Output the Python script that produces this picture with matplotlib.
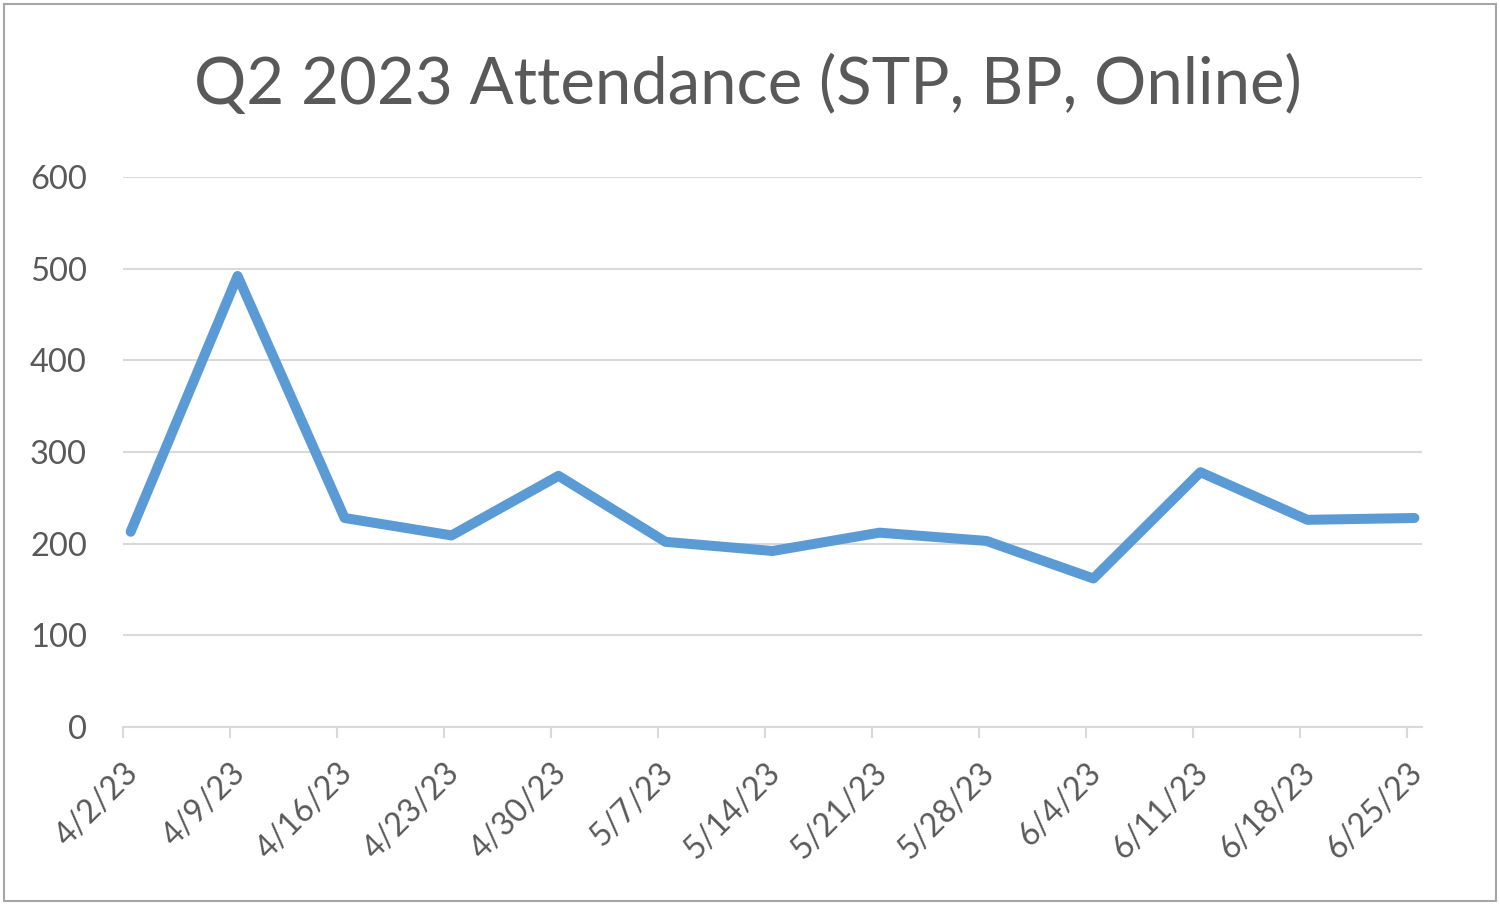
import matplotlib
matplotlib.use("Agg")
import matplotlib.pyplot as plt
import matplotlib.dates as mdates
from matplotlib.patches import Rectangle
import datetime as dt

# weekly attendance
week_labels = ["4/2/23", "4/9/23", "4/16/23", "4/23/23", "4/30/23", "5/7/23", "5/14/23",
               "5/21/23", "5/28/23", "6/4/23", "6/11/23", "6/18/23", "6/25/23"]
attendance = [213, 492, 228, 209, 274, 202, 192, 212, 203, 162, 278, 226, 228]
y_ticks = [0, 100, 200, 300, 400, 500, 600]

title = "Q2 2023 Attendance (STP, BP, Online)"
text_color = "#595959"
grid_color = "#d9d9d9"
line_color = "#5b9bd5"
font = ["Lato", "DejaVu Sans"]

dates = [dt.datetime.strptime(s, "%m/%d/%y") for s in week_labels]
tick_pos = mdates.date2num(dates)
# excel date axis puts each point in the middle of its day
point_pos = tick_pos + 0.5

fig = plt.figure(figsize=(15, 9.05), dpi=100)
ax = fig.add_axes([123 / 1500, 1 - 727 / 905, (1422 - 123) / 1500, (727 - 177) / 905])

ax.plot(point_pos, attendance, color=line_color, linewidth=7.2,
        solid_capstyle="round", solid_joinstyle="round", zorder=3)

ax.set_xlim(tick_pos[0], tick_pos[-1] + 1)
ax.set_ylim(0, 600)
ax.set_yticks(y_ticks)
ax.set_yticklabels([str(v) for v in y_ticks], fontsize=23.5, color=text_color, family=font)
ax.set_xticks(tick_pos)
ax.set_xticklabels(week_labels, fontsize=23, color=text_color, family=font,
                   rotation=45, ha="right", va="top", rotation_mode="anchor")

ax.grid(axis="y", color=grid_color, linewidth=1.5)
ax.set_axisbelow(True)
for side in ["top", "right", "left"]:
    ax.spines[side].set_visible(False)
ax.spines["bottom"].set_color(grid_color)
ax.spines["bottom"].set_linewidth(1.5)
ax.tick_params(axis="y", length=0, pad=26)
ax.tick_params(axis="x", length=8, width=1.5, color=grid_color, pad=14)

fig.text(0.4987, 1 - 84 / 905, title, ha="center", va="center",
         fontsize=47, color=text_color, family=font)

fig.patches.append(Rectangle((4 / 1500, 4 / 905), 1 - 8 / 1500, 1 - 8 / 905,
                             transform=fig.transFigure, fill=False,
                             edgecolor="#a6a6a6", linewidth=1.5))

fig.savefig("out.png", dpi=100, facecolor="white")
